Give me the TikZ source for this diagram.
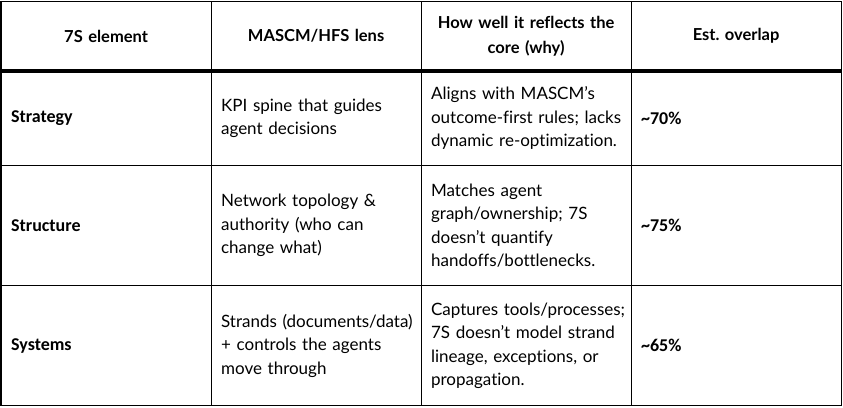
\documentclass[tikz,border=0pt]{standalone}
\usepackage{fontspec}
\setmainfont{Lato}[Ligatures=NoCommon]
\newfontfamily\carlito{Carlito}
\usetikzlibrary{positioning}
\frenchspacing

\begin{document}
\begin{tikzpicture}[x=1pt, y=-1pt,
    box/.style={draw, line width=1.2pt, anchor=north west, inner xsep=10pt, inner ysep=0pt,
                minimum width=210pt, text width=190pt},
    head/.style={box, align=center, font=\fontsize{16.5}{25}\selectfont\bfseries},
    cell/.style={box, align=left, font=\fontsize{17}{23.5}\selectfont,
                 execute at begin node={\rightskip=0pt plus 1fil minus 30pt}},
    key/.style={cell, font=\carlito\fontsize{18}{23.5}\selectfont\bfseries}]
    \useasboundingbox (0,0) rectangle (843,407);

    % header row
    \node[head, minimum height=69pt] (h1) at (0.5,1) {7S element};
    \node[head, minimum height=69pt] (h2) at (210.5,1) {MASCM/HFS lens};
    \node[head, minimum height=69pt] (h3) at (420.5,1) {How well it reflects the\\core (why)};
    \node[head, minimum height=69pt] (h4) at (630.5,1) {Est. overlap};

    % strategy
    \node[key, minimum height=95pt] (s1) at (0.5,70) {Strategy};
    \node[cell, minimum height=95pt] (s2) at (210.5,70) {KPI spine that guides\\agent decisions};
    \node[cell, minimum height=95pt] (s3) at (420.5,70) {Aligns with MASCM’s\\outcome-first rules; lacks\\dynamic re-optimization.};
    \node[key, minimum height=95pt] (s4) at (630.5,70) {\textasciitilde70\%};

    % structure
    \node[key, minimum height=120pt] (t1) at (0.5,165) {Structure};
    \node[cell, minimum height=120pt] (t2) at (210.5,165) {Network topology \&\\authority (who can\\change what)};
    \node[cell, minimum height=120pt] (t3) at (420.5,165) {Matches agent\\graph/ownership; 7S\\doesn’t quantify\\handoffs/bottlenecks.};
    \node[key, minimum height=120pt] (t4) at (630.5,165) {\textasciitilde75\%};

    % systems
    \node[key, minimum height=120pt] (y1) at (0.5,285) {Systems};
    \node[cell, minimum height=120pt] (y2) at (210.5,285) {Strands (documents/data)\\+ controls the agents\\move through};
    \node[cell, minimum height=120pt] (y3) at (420.5,285) {Captures tools/processes;\\7S doesn’t model strand\\lineage, exceptions, or\\propagation.};
    \node[key, minimum height=120pt] (y4) at (630.5,285) {\textasciitilde65\%};

    \draw[line width=3.5pt] (h1.south west) -- (h4.south east);
\end{tikzpicture}
\end{document}
